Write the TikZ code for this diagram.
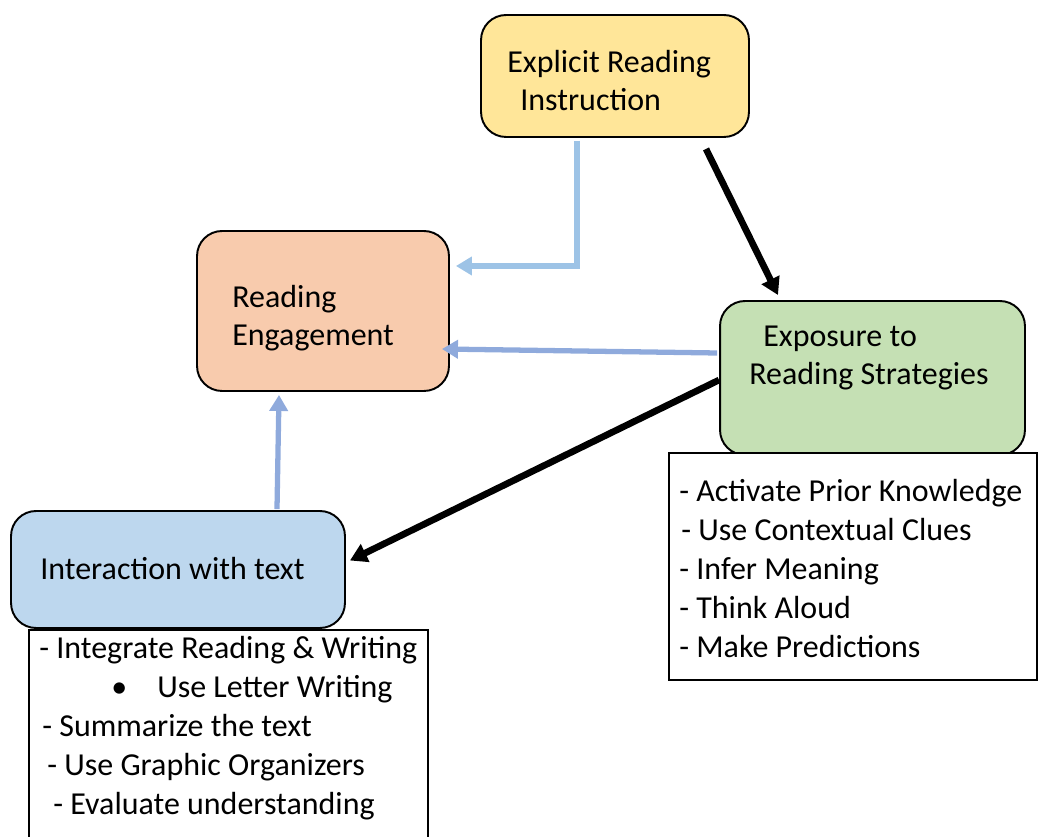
\documentclass[tikz,border=0pt]{standalone}
\usepackage{fontspec}
\setmainfont{Carlito}
\usetikzlibrary{arrows.meta,calc}

\definecolor{goldfill}{HTML}{FFE699}
\definecolor{peachfill}{HTML}{F8CBAD}
\definecolor{sagefill}{HTML}{C5E0B4}
\definecolor{skyfill}{HTML}{BDD7EE}
\definecolor{paleblue}{HTML}{9DC3E6}
\definecolor{slateblue}{HTML}{8FAADC}

\begin{document}
\begin{tikzpicture}[x=0.02cm,y=-0.02cm,
every node/.style={font=\fontsize{18.2}{22}\selectfont},
stage/.style={draw,line width=1.1pt,rounded corners=0.5cm,inner sep=0pt},
listbox/.style={draw,fill=white,line width=0.9pt,inner sep=0pt},
txt/.style={anchor=base west,align=left,inner sep=0pt},
palearrow/.style={draw=paleblue,line width=3.2pt,-{Triangle[length=0.32cm,width=0.36cm]}},
slatearrow/.style={draw=slateblue,line width=3pt,-{Triangle[length=0.32cm,width=0.36cm]}},
darkarrow/.style={draw=black,line width=3.8pt,-{Triangle[length=0.34cm,width=0.38cm]}}]

\useasboundingbox (0,0) rectangle (1039,837);

% stages
\node[stage,fill=goldfill,minimum width=5.36cm,minimum height=2.44cm] (ins) at (615,76) {};
\node[stage,fill=peachfill,minimum width=5.04cm,minimum height=3.2cm] (eng) at (323,311) {};
\node[stage,fill=sagefill,minimum width=6.1cm,minimum height=3.08cm] (exp) at (872.5,378) {};
\node[stage,fill=skyfill,minimum width=6.68cm,minimum height=2.34cm] (int) at (178,569.5) {};

\node[txt] (instxt) at (507,111) {Explicit Reading\\\hspace*{0.26cm}Instruction};
\node[txt] (engtxt) at (232,346) {Reading\\Engagement};
\node[txt] (exptxt) at (749,385) {\hspace*{0.28cm}Exposure to\\Reading Strategies};
\node[txt] (inttxt) at (40,580) {Interaction with text};

% lists
\node[listbox,minimum width=7.36cm,minimum height=4.54cm] (explist) at (853,566.5) {};
\node[listbox,minimum width=7.98cm,minimum height=4.24cm] (intlist) at (228.5,736) {};

\foreach \x/\t [count=\i] in {679/- Activate Prior Knowledge,681/- Use Contextual Clues,
  679/- Infer Meaning,679/- Think Aloud,679/- Make Predictions}
  \node[txt] (exp\i) at (\x,463+39*\i) {\t};

\foreach \x/\t [count=\i] in {39/- Integrate Reading \& Writing,
  111/\textbullet\hspace*{0.6cm}Use Letter Writing,42/- Summarize the text,
  47/- Use Graphic Organizers,53/- Evaluate understanding}
  \node[txt] (int\i) at (\x,620+39*\i) {\t};

% connectors
\coordinate (elbow) at (577,266);
\draw[palearrow] ([yshift=-0.06cm]ins.south -| elbow) |- ([xshift=0.12cm]eng.east |- elbow);
\draw[darkarrow] ($(ins.south)+(91,11)$) -- ($(exp.north)+(-94.5,-5)$);
\draw[slatearrow] ($(exp.west)+(-2,-25)$) -- ($(eng.east)+(-8,38)$);
\draw[darkarrow] ($(exp.west)+(0,2)$) -- ($(int.east)+(4,-9)$);
\draw[slatearrow] ($(int.north)+(99,-1)$) -- ($(eng.south)+(-44,3)$);

\end{tikzpicture}
\end{document}
